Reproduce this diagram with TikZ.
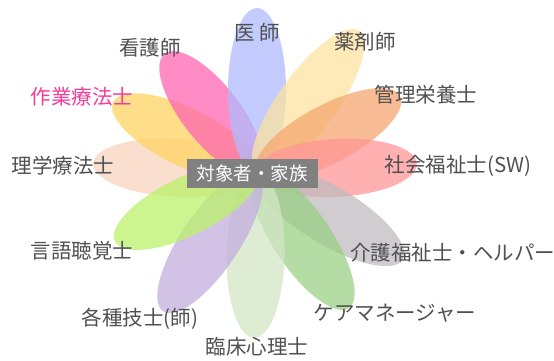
\documentclass[tikz,border=0pt]{standalone}
\usepackage{fontspec}
\setmainfont{Noto Sans CJK JP}
\definecolor{iro1}{RGB}{176,187,255}
\definecolor{iro2}{RGB}{252,227,160}
\definecolor{iro3}{RGB}{246,166,112}
\definecolor{iro4}{RGB}{255,150,150}
\definecolor{iro5}{RGB}{192,187,191}
\definecolor{iro6}{RGB}{155,208,134}
\definecolor{iro7}{RGB}{211,230,198}
\definecolor{iro8}{RGB}{195,174,222}
\definecolor{iro9}{RGB}{188,242,106}
\definecolor{iro10}{RGB}{248,211,190}
\definecolor{iro11}{RGB}{255,211,99}
\definecolor{iro12}{RGB}{255,102,176}
\definecolor{moji}{RGB}{80,80,80}
\definecolor{mojipink}{RGB}{245,60,154}
\tikzset{
  petal/.style={opacity=.75},
  lbl/.style={text=moji,font=\fontsize{20.5}{23}\selectfont,inner sep=0pt}
}
\begin{document}
\begin{tikzpicture}[x=1pt,y=1pt]
   \useasboundingbox (0,0) rectangle (554,360);

   % petals around the center
   \fill[iro10,petal,shift={(257,188)},rotate=177] (82,0) ellipse (82pt and 29pt);
   \fill[iro11,petal,shift={(257,188)},rotate=154] (80,0) ellipse (80pt and 29pt);
   \fill[iro12,petal,shift={(257,188)},rotate=128] (75,0) ellipse (75pt and 29pt);
   \fill[iro1,petal,shift={(257,188)},rotate=90] (82,0) ellipse (82pt and 29pt);
   \fill[iro2,petal,shift={(257,188)},rotate=54] (87,0) ellipse (87pt and 29pt);
   \fill[iro3,petal,shift={(257,188)},rotate=28] (81,0) ellipse (81pt and 29pt);
   \fill[iro4,petal,shift={(257,188)},rotate=3] (80,0) ellipse (80pt and 29pt);
   \fill[iro5,petal,shift={(257,188)},rotate=-31] (85,0) ellipse (85pt and 29pt);
   \fill[iro6,petal,shift={(257,188)},rotate=-56] (82,0) ellipse (82pt and 29pt);
   \fill[iro7,petal,shift={(257,188)},rotate=-91] (83,0) ellipse (83pt and 29pt);
   \fill[iro8,petal,shift={(257,188)},rotate=-124] (84,0) ellipse (84pt and 29pt);
   \fill[iro9,petal,shift={(257,188)},rotate=-154] (79,0) ellipse (79pt and 29pt);

   % center
   \node[fill=black!50,text=white,minimum width=131pt,minimum height=29pt,
         inner sep=0pt,font=\fontsize{18.5}{20}\selectfont] (kazoku) at (252,187) {対象者・家族};

   % labels
   \node[lbl] (ishi) at (257,327) {医 師};
   \node[lbl] (yakuzai) at (365,318) {薬剤師};
   \node[lbl] (eiyou) at (426,265) {管理栄養士};
   \node[lbl] (sw) at (458,194) {社会福祉士(SW)};
   \node[lbl,anchor=west] (kaigo) at (350,107) {介護福祉士・ヘルパー};
   \node[lbl] (caremane) at (395,47) {ケアマネージャー};
   \node[lbl] (shinri) at (257,13) {臨床心理士};
   \node[lbl] (gishi) at (140,41) {各種技士(師)};
   \node[lbl] (st) at (82,109) {言語聴覚士};
   \node[lbl] (pt) at (63,194) {理学療法士};
   \node[lbl,text=mojipink] (ot) at (82,263) {作業療法士};
   \node[lbl] (kango) at (150,312) {看護師};
\end{tikzpicture}
\end{document}
